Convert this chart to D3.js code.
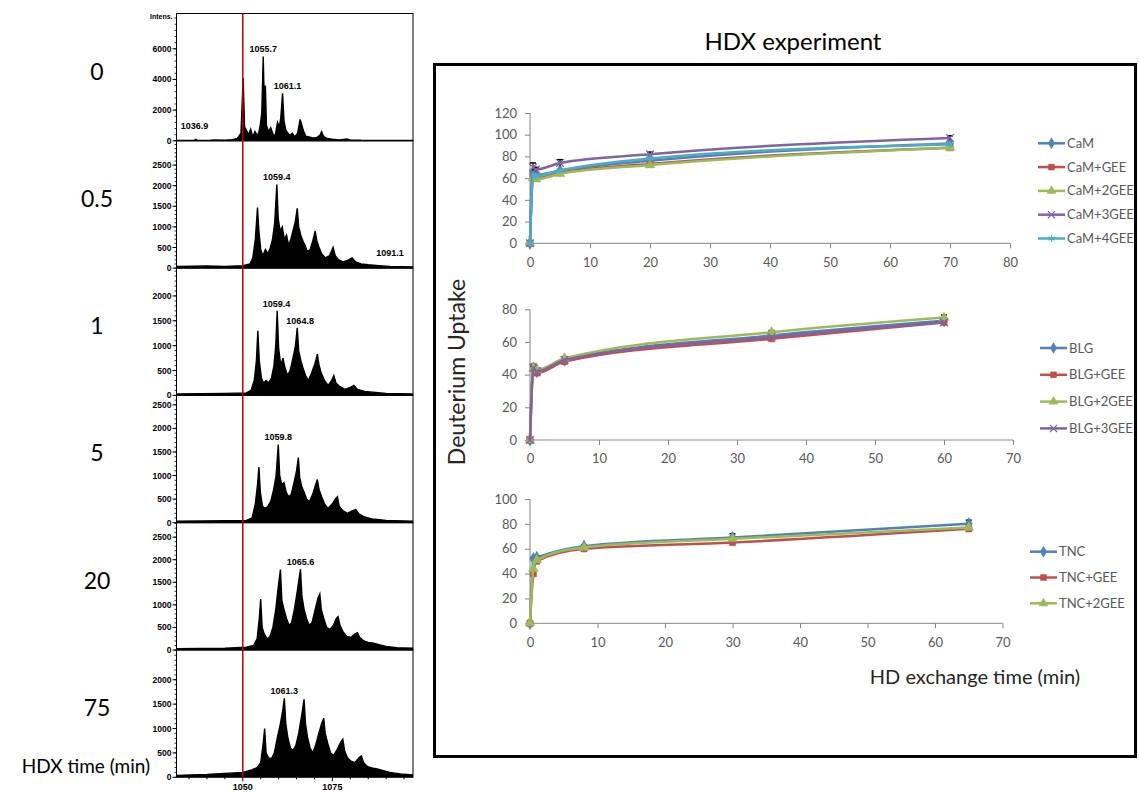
<!DOCTYPE html>
<html>
<head>
<meta charset="utf-8">
<script src="https://cdn.jsdelivr.net/npm/d3@7"></script>
<style>
  body { margin: 0; background: #fff; }
  svg { display: block; }
</style>
</head>
<body>
<div id="fig"></div>
<script>
// ---- data: mass spectra, [m/z, intensity] ----
var hdxTimes = ["0", "0.5", "1", "5", "20", "75"];

var spec0 = [[1031.5,20],[1036.5,30],[1036.9,90],[1037.3,30],[1041,40],[1042,60],[1045,40],[1047,80],[1048.5,150],[1049.5,500],[1050.1,4100],[1050.5,900],[1051,700],[1051.6,400],[1052.2,750],[1052.8,250],[1053.4,600],[1054.2,300],[1054.8,900],[1055.3,1800],[1055.7,5500],[1056.1,1500],[1056.3,3600],[1056.6,1000],[1057.2,600],[1057.8,850],[1058.4,450],[1059,300],[1059.7,1200],[1060.2,900],[1060.6,1500],[1061.1,3100],[1061.5,1300],[1062,700],[1062.6,500],[1063.2,350],[1063.8,500],[1064.5,250],[1065.3,500],[1066,1400],[1066.5,1000],[1067,600],[1067.6,300],[1068.5,250],[1069.5,180],[1070.5,200],[1071.5,350],[1072,600],[1072.5,300],[1073.5,150],[1075,100],[1077,60],[1079,120],[1080,60],[1083,40],[1090,30],[1097.5,20]];

var spec05 = [[1031.5,40],[1040,50],[1045,40],[1050,60],[1052,100],[1052.8,250],[1053.5,700],[1054.1,1470],[1054.5,900],[1055,450],[1055.6,300],[1056.3,450],[1057,350],[1057.7,500],[1058.3,700],[1058.9,1100],[1059.5,2030],[1059.9,1200],[1060.4,900],[1061,1000],[1061.6,700],[1062.2,800],[1062.8,550],[1063.4,700],[1064,900],[1064.6,1100],[1065.2,1450],[1065.6,1000],[1066.2,800],[1066.8,650],[1067.4,550],[1068,400],[1068.8,450],[1069.5,650],[1070.2,900],[1070.7,650],[1071.3,500],[1072,350],[1073,250],[1074.2,300],[1075.2,500],[1075.8,300],[1076.8,200],[1078,150],[1079.5,200],[1080.5,250],[1081.5,150],[1083,100],[1085,80],[1088,60],[1091.1,40],[1097.5,30]];

var spec1 = [[1031.5,30],[1045,40],[1051,50],[1052.3,100],[1053.2,300],[1053.8,700],[1054.2,1300],[1054.6,700],[1055.2,350],[1055.8,250],[1056.5,300],[1057.2,250],[1058,350],[1058.7,600],[1059.2,1000],[1059.6,1700],[1060,950],[1060.6,600],[1061.2,750],[1061.8,550],[1062.5,400],[1063.2,500],[1064,750],[1064.7,1000],[1065.2,1360],[1065.6,900],[1066.2,700],[1066.8,550],[1067.5,400],[1068.3,300],[1069.2,450],[1070.2,650],[1070.8,830],[1071.3,600],[1071.9,450],[1072.8,300],[1073.8,200],[1074.8,300],[1075.4,400],[1076,250],[1077,180],[1078.5,120],[1080,160],[1081,200],[1082,120],[1084,80],[1087,60],[1090,40],[1097.5,30]];

var spec5 = [[1031.5,30],[1045,40],[1051,50],[1052.6,100],[1053.5,400],[1054.1,800],[1054.5,1180],[1054.9,650],[1055.5,350],[1056.3,300],[1057,350],[1057.8,450],[1058.6,700],[1059.3,1000],[1059.9,1660],[1060.3,1000],[1060.9,800],[1061.5,850],[1062.1,650],[1062.8,550],[1063.5,600],[1064.3,850],[1065,1100],[1065.5,1380],[1065.9,950],[1066.5,750],[1067.1,650],[1067.8,500],[1068.6,450],[1069.5,600],[1070.3,800],[1070.8,915],[1071.3,700],[1072,550],[1072.8,400],[1073.8,300],[1075,400],[1075.8,500],[1076.4,550],[1076.9,350],[1078,250],[1079.2,200],[1080.5,250],[1081.5,280],[1082.5,180],[1084,120],[1086,80],[1090,50],[1097.5,30]];

var spec20 = [[1031.5,30],[1045,40],[1051,60],[1053,100],[1054,250],[1054.6,700],[1055,1130],[1055.4,500],[1056,350],[1056.8,250],[1057.6,300],[1058.4,500],[1059.2,900],[1059.9,1400],[1060.5,1780],[1060.9,1100],[1061.5,900],[1062.2,700],[1062.9,550],[1063.6,600],[1064.4,900],[1065.2,1300],[1066.1,1790],[1066.5,1200],[1067.1,900],[1067.8,700],[1068.5,550],[1069.3,600],[1070.2,900],[1071,1150],[1071.5,1240],[1071.9,900],[1072.6,700],[1073.4,500],[1074.3,450],[1075.3,550],[1076.1,700],[1076.6,740],[1077.1,550],[1078,400],[1079,300],[1080.2,280],[1081.2,350],[1082,385],[1082.6,280],[1083.8,200],[1085,170],[1086.5,150],[1088,120],[1090,80],[1093,50],[1097.5,40]];

var spec75 = [[1031.5,40],[1040,60],[1045,80],[1050,100],[1052.5,150],[1054,200],[1055,300],[1055.7,700],[1056.1,1000],[1056.5,500],[1057.2,400],[1058,380],[1058.8,500],[1059.6,800],[1060.5,1100],[1061.2,1400],[1061.6,1620],[1062,1100],[1062.6,800],[1063.3,600],[1064,550],[1064.8,650],[1065.6,900],[1066.5,1300],[1067.1,1600],[1067.5,1100],[1068.1,800],[1068.8,600],[1069.5,500],[1070.3,650],[1071.2,900],[1072,1100],[1072.6,1210],[1073,900],[1073.7,700],[1074.5,500],[1075.3,450],[1076.2,550],[1077.2,700],[1077.9,780],[1078.4,550],[1079.2,400],[1080.2,330],[1081.3,300],[1082.4,400],[1083.1,440],[1083.7,300],[1084.8,220],[1086,190],[1087.5,170],[1089,140],[1091,100],[1094,70],[1097.5,50]];

var spectra = [spec0, spec05, spec1, spec5, spec20, spec75];
var specYMax = [8300, 3090, 2560, 2700, 2820, 2610];
var specYTicks = [[0,2000,4000,6000], [0,500,1000,1500,2000,2500], [0,500,1000,1500,2000],
                  [0,500,1000,1500,2000,2500], [0,500,1000,1500,2000,2500], [0,500,1000,1500,2000]];
// peak labels: [text, m/z, intensity]
var specLabels = [
  [["1055.7",1055.7,5500],["1061.1",1062.5,3100],["1036.9",1036.5,500]],
  [["1059.4",1059.5,2030],["1091.1",1091.1,200]],
  [["1059.4",1059.4,1700],["1064.8",1066,1360]],
  [["1059.8",1059.9,1660]],
  [["1065.6",1066.1,1790]],
  [["1061.3",1061.6,1620]]
];
var mzTicks = [1050, 1075];

// ---- data: HDX uptake curves ----
var camTimes = [0, 0.5, 1, 5, 20, 70];
var camNames = ["CaM", "CaM+GEE", "CaM+2GEE", "CaM+3GEE", "CaM+4GEE"];
var camValues = [
  [0, 65, 63, 67, 76, 92],
  [0, 61, 60, 65, 73, 88],
  [0, 60, 59, 64, 72, 88],
  [0, 70, 68, 74, 82, 97],
  [0, 63, 62, 67, 78, 91]
];
var camErr = [null, null, null, [0, 4, 2, 3, 2, 2], null];

var blgTimes = [0, 0.5, 1, 5, 35, 60];
var blgNames = ["BLG", "BLG+GEE", "BLG+2GEE", "BLG+3GEE"];
var blgValues = [
  [0, 44, 42, 49, 64, 73],
  [0, 45, 41, 48, 62, 72],
  [0, 44, 43, 50, 66, 75],
  [0, 44, 42, 49, 63, 72]
];
var blgErr = [null, null, [0, 1, 1, 1, 1, 1.5], null];

var tncTimes = [0, 0.5, 1, 8, 30, 65];
var tncNames = ["TNC", "TNC+GEE", "TNC+2GEE"];
var tncValues = [
  [0, 52, 53, 62, 69, 80],
  [0, 40, 50, 60, 65, 76],
  [0, 44, 51, 61, 68, 77]
];
var tncErr = [[0, 1, 1, 1, 3, 3], null, null];

var seriesColors = ["#4F81BD", "#C0504D", "#9BBB59", "#8064A2", "#4BACC6"];
var seriesSymbols = [d3.symbolDiamond, d3.symbolSquare, d3.symbolTriangle, d3.symbolTimes || d3.symbolCross, d3.symbolAsterisk || d3.symbolCross];

// ---- svg ----
var svg = d3.select("#fig").append("svg")
    .attr("width", 1139)
    .attr("height", 795);

var uiFont = "Lato, 'Open Sans', sans-serif";
var specFont = "'Liberation Sans', Arial, sans-serif";

// ================= left: mass spectra =================
var specLeft = 176.5, specRight = 413, specTop = 13.5, panelH = 127.3;
var x = d3.scaleLinear().domain([1031.5, 1097.5]).range([specLeft, specRight]);

spectra.forEach(function(data, i) {
  var top = specTop + i * panelH, bottom = top + panelH;
  var y = d3.scaleLinear().domain([0, specYMax[i]]).range([bottom, top]);
  var g = svg.append("g");

  g.append("rect")
    .attr("x", specLeft).attr("y", top)
    .attr("width", specRight - specLeft).attr("height", panelH)
    .attr("fill", "none").attr("stroke", "#000").attr("stroke-width", 1);

  var clipId = "clip" + i;
  svg.append("clipPath").attr("id", clipId).append("rect")
    .attr("x", specLeft).attr("y", top).attr("width", specRight - specLeft).attr("height", panelH);

  var area = d3.area().x(function(d) { return x(d[0]); }).y0(y(0)).y1(function(d) { return y(d[1]); });
  var line = d3.line().x(function(d) { return x(d[0]); }).y(function(d) { return y(d[1]); });

  g.append("path").datum(data).attr("clip-path", "url(#" + clipId + ")")
    .attr("d", area).attr("fill", "#000");
  g.append("path").datum(data).attr("clip-path", "url(#" + clipId + ")")
    .attr("d", line).attr("fill", "none").attr("stroke", "#000").attr("stroke-width", 1.4);

  // y axis with minor ticks
  var step = specYTicks[i][1];
  var minors = d3.range(0, specYMax[i], step / 5);
  g.selectAll(null).data(minors).enter().append("line")
    .attr("x1", specLeft - 2).attr("x2", specLeft)
    .attr("y1", function(d) { return y(d); }).attr("y2", function(d) { return y(d); })
    .attr("stroke", "#000").attr("stroke-width", 0.8);
  g.selectAll(null).data(specYTicks[i]).enter().append("line")
    .attr("x1", specLeft - 4).attr("x2", specLeft)
    .attr("y1", function(d) { return y(d); }).attr("y2", function(d) { return y(d); })
    .attr("stroke", "#000");
  g.selectAll(null).data(specYTicks[i]).enter().append("text")
    .attr("x", specLeft - 5).attr("y", function(d) { return y(d) + 3; })
    .attr("text-anchor", "end").attr("font-family", specFont)
    .attr("font-size", 8.5).attr("font-weight", "bold")
    .text(function(d) { return d; });

  // peak labels
  g.selectAll(null).data(specLabels[i]).enter().append("text")
    .attr("x", function(d) { return x(d[1]); })
    .attr("y", function(d) { return y(d[2]) - 4; })
    .attr("text-anchor", "middle").attr("font-family", specFont)
    .attr("font-size", 9).attr("font-weight", "bold")
    .text(function(d) { return d[0]; });

  // time label
  svg.append("text")
    .attr("x", 97).attr("y", top + 66)
    .attr("text-anchor", "middle").attr("font-family", uiFont)
    .attr("font-size", 23).text(hdxTimes[i]);
});

svg.append("text").attr("x", specLeft - 4).attr("y", specTop + 5)
  .attr("text-anchor", "end").attr("font-family", specFont)
  .attr("font-size", 7).attr("font-weight", "bold").text("Intens.");

// bottom m/z axis
var specBottom = specTop + 6 * panelH;
svg.selectAll(null).data(d3.range(1035, 1097, 5)).enter().append("line")
  .attr("x1", function(d) { return x(d); }).attr("x2", function(d) { return x(d); })
  .attr("y1", specBottom).attr("y2", function(d) { return specBottom + (d % 25 === 0 ? 4 : 2); })
  .attr("stroke", "#000");
svg.selectAll(null).data(mzTicks).enter().append("text")
  .attr("x", function(d) { return x(d); }).attr("y", specBottom + 13)
  .attr("text-anchor", "middle").attr("font-family", specFont)
  .attr("font-size", 9).attr("font-weight", "bold")
  .text(function(d) { return d; });

// red reference line at 1050
svg.append("line")
  .attr("x1", x(1050)).attr("x2", x(1050))
  .attr("y1", specTop).attr("y2", specBottom)
  .attr("stroke", "#C00000").attr("stroke-width", 1.5);

svg.append("text").attr("x", 86).attr("y", 773)
  .attr("text-anchor", "middle").attr("font-family", uiFont)
  .attr("font-size", 19).text("HDX time (min)");

// ================= right: HDX uptake =================
svg.append("text").attr("x", 793).attr("y", 50)
  .attr("text-anchor", "middle").attr("font-family", uiFont)
  .attr("font-size", 24).text("HDX experiment");

svg.append("rect").attr("x", 434.5).attr("y", 64.5)
  .attr("width", 701).attr("height", 692)
  .attr("fill", "none").attr("stroke", "#000").attr("stroke-width", 3);

var charts = [
  {times: camTimes, names: camNames, values: camValues, err: camErr,
   x0: 530, x1: 1010, xMax: 80, y0: 243.3, y1: 113, yMax: 120, yStep: 20,
   legX: 1038, legY: 143.3, legGap: 23.8},
  {times: blgTimes, names: blgNames, values: blgValues, err: blgErr,
   x0: 530, x1: 1013, xMax: 70, y0: 440, y1: 309.3, yMax: 80, yStep: 20,
   legX: 1040, legY: 348, legGap: 26.8},
  {times: tncTimes, names: tncNames, values: tncValues, err: tncErr,
   x0: 530, x1: 1002.5, xMax: 70, y0: 623.3, y1: 499, yMax: 100, yStep: 20,
   legX: 1030, legY: 551.7, legGap: 25.8}
];

var axisGrey = "#868686", labelGrey = "#595959";

charts.forEach(function(c) {
  var xs = d3.scaleLinear().domain([0, c.xMax]).range([c.x0, c.x1]);
  var ys = d3.scaleLinear().domain([0, c.yMax]).range([c.y0, c.y1]);
  var g = svg.append("g");

  var xAxis = g.append("g").attr("transform", "translate(0," + c.y0 + ")")
    .call(d3.axisBottom(xs).tickValues(d3.range(0, c.xMax + 1, 10)).tickSize(5).tickPadding(9));
  var yAxis = g.append("g").attr("transform", "translate(" + c.x0 + ",0)")
    .call(d3.axisLeft(ys).tickValues(d3.range(0, c.yMax + 1, c.yStep)).tickSize(5).tickPadding(8));
  [xAxis, yAxis].forEach(function(a) {
    a.select(".domain").attr("stroke", axisGrey);
    a.selectAll(".tick line").attr("stroke", axisGrey);
    a.selectAll("text").attr("fill", labelGrey).attr("font-family", uiFont).attr("font-size", 13);
  });
  xAxis.select(".domain").attr("d", "M" + c.x0 + ",0H" + c.x1);
  yAxis.select(".domain").attr("d", "M0," + c.y0 + "V" + c.y1);

  var line = d3.line().curve(d3.curveMonotoneX)
    .x(function(d, i) { return xs(c.times[i]); })
    .y(function(d) { return ys(d); });

  c.values.forEach(function(vals, s) {
    var col = seriesColors[s];
    g.append("path").datum(vals).attr("d", line)
      .attr("fill", "none").attr("stroke", col).attr("stroke-width", 2.5);

    if (c.err[s]) {
      c.err[s].forEach(function(e, i) {
        if (!e) return;
        var px = xs(c.times[i]);
        g.append("line").attr("x1", px).attr("x2", px)
          .attr("y1", ys(vals[i] - e)).attr("y2", ys(vals[i] + e)).attr("stroke", "#000");
        g.append("line").attr("x1", px - 3).attr("x2", px + 3)
          .attr("y1", ys(vals[i] + e)).attr("y2", ys(vals[i] + e)).attr("stroke", "#000").attr("stroke-width", 1.5);
      });
    }

    var sym = d3.symbol().type(seriesSymbols[s]).size(s === 0 ? 45 : 40);
    var stroked = s >= 3;
    g.selectAll(null).data(vals).enter().append("path")
      .attr("transform", function(d, i) { return "translate(" + xs(c.times[i]) + "," + ys(d) + ")"; })
      .attr("d", sym)
      .attr("fill", stroked ? "none" : col)
      .attr("stroke", col).attr("stroke-width", stroked ? 1.3 : 0.5);
  });

  // legend
  c.names.forEach(function(n, s) {
    var ly = c.legY + s * c.legGap, col = seriesColors[s];
    g.append("line").attr("x1", c.legX).attr("x2", c.legX + 27)
      .attr("y1", ly).attr("y2", ly).attr("stroke", col).attr("stroke-width", 2.5);
    g.append("path").attr("transform", "translate(" + (c.legX + 13.5) + "," + ly + ")")
      .attr("d", d3.symbol().type(seriesSymbols[s]).size(35))
      .attr("fill", s >= 3 ? "none" : col).attr("stroke", col).attr("stroke-width", s >= 3 ? 1.2 : 0.5);
    g.append("text").attr("x", c.legX + 29).attr("y", ly + 4.5)
      .attr("font-family", uiFont).attr("font-size", 13).attr("fill", labelGrey)
      .text(n);
  });
});

svg.append("text")
  .attr("transform", "translate(465,372) rotate(-90)")
  .attr("text-anchor", "middle").attr("font-family", uiFont)
  .attr("font-size", 23).attr("fill", "#262626").text("Deuterium Uptake");

svg.append("text").attr("x", 975).attr("y", 684)
  .attr("text-anchor", "middle").attr("font-family", uiFont)
  .attr("font-size", 20).attr("fill", "#262626").text("HD exchange time (min)");
</script>
</body>
</html>
